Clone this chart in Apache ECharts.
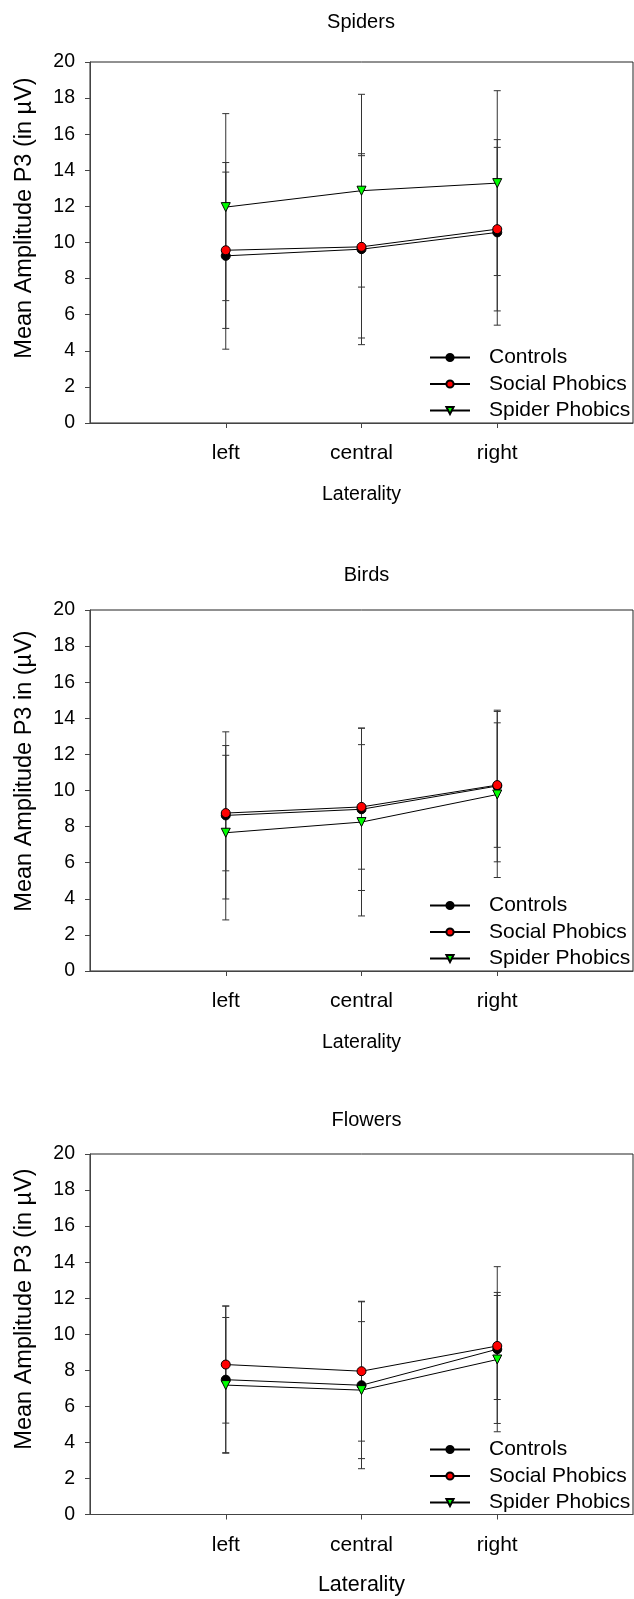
<!DOCTYPE html>
<html>
<head>
<meta charset="utf-8">
<script src="https://cdn.jsdelivr.net/npm/echarts@6/dist/echarts.min.js"></script>
<style>
html,body{margin:0;padding:0;background:#fff;}
#chart{width:634px;height:1599px;}
</style>
</head>
<body>
<div id="chart"></div>
<script>
// ---- data ----
const categories = ['left', 'central', 'right'];
const seriesNames = ['Controls', 'Social Phobics', 'Spider Phobics'];
const panelTitles = ['Spiders', 'Birds', 'Flowers'];
const yTitles = ['Mean Amplitude P3 (in µV)', 'Mean Amplitude P3 in (µV)', 'Mean Amplitude P3 (in µV)'];
const xTitle = 'Laterality';
const yTicks = [0, 2, 4, 6, 8, 10, 12, 14, 16, 18, 20];

// Spiders
const spidersControls = [9.26, 9.63, 10.56];
const spidersControlsErr = [5.17, 5.29, 5.14];
const spidersSocial = [9.57, 9.76, 10.74];
const spidersSocialErr = [4.33, 5.05, 4.53];
const spidersSpider = [11.96, 12.87, 13.29];
const spidersSpiderErr = [5.18, 5.34, 5.12];

// Birds
const birdsControls = [8.62, 8.96, 10.25];
const birdsControlsErr = [4.63, 4.50, 4.20];
const birdsSocial = [8.75, 9.09, 10.30];
const birdsSocialErr = [3.20, 3.45, 3.45];
const birdsSpider = [7.66, 8.25, 9.78];
const birdsSpiderErr = [4.83, 5.20, 4.60];

// Flowers
const flowersControls = [7.48, 7.17, 9.17];
const flowersControlsErr = [4.08, 4.63, 4.58];
const flowersSocial = [8.32, 7.95, 9.35];
const flowersSocialErr = [3.25, 3.88, 2.97];
const flowersSpider = [7.18, 6.90, 8.60];
const flowersSpiderErr = [3.75, 3.80, 3.55];

const panels = [
  [[spidersControls, spidersControlsErr], [spidersSocial, spidersSocialErr], [spidersSpider, spidersSpiderErr]],
  [[birdsControls, birdsControlsErr], [birdsSocial, birdsSocialErr], [birdsSpider, birdsSpiderErr]],
  [[flowersControls, flowersControlsErr], [flowersSocial, flowersSocialErr], [flowersSpider, flowersSpiderErr]]
];

// ---- styling ----
const FONT = "'Liberation Sans', Arial, sans-serif";
const gridTops = [62, 610, 1154];
const gridHeights = [361, 361, 360.5];
const gridLeft = 90;
const gridWidth = 543;
const titleTops = [7, 560, 1105];
const titleLefts = [356, 361.5, 361.5];
const yTitleCenters = [218, 771, 1309];
const markerStyles = [
  {symbol: 'circle', rotate: 0, fill: '#000000'},
  {symbol: 'circle', rotate: 0, fill: '#ff0000'},
  {symbol: 'triangle', rotate: 180, fill: '#00ff00'}
];
const xAxisData = [''].concat(categories).concat(['']);

const grids = [], xAxes = [], yAxes = [], series = [], titles = [], legends = [], graphics = [];

panels.forEach((panel, p) => {
  grids.push({left: gridLeft, top: gridTops[p], width: gridWidth, height: gridHeights[p],
    show: true, borderColor: '#222', borderWidth: 1, backgroundColor: 'transparent'});
  titles.push({text: panelTitles[p], left: titleLefts[p], top: titleTops[p], textAlign: 'center',
    textStyle: {fontFamily: FONT, fontSize: 20, fontWeight: 'normal', color: '#000'}});
  xAxes.push({
    type: 'category', gridIndex: p, data: xAxisData, boundaryGap: false,
    axisLine: {show: true, lineStyle: {color: '#444', width: 1}},
    axisTick: {show: true, inside: false, length: 5, lineStyle: {color: '#444'},
      interval: (i, v) => v !== ''},
    axisLabel: {show: true, interval: (i, v) => v !== '', margin: 20,
      fontFamily: FONT, fontSize: 21, color: '#000'},
    name: xTitle, nameLocation: 'middle', nameGap: p === 2 ? 60 : 62,
    nameTextStyle: {fontFamily: FONT, fontSize: p === 2 ? 21.5 : 19.5, color: '#000'},
    splitLine: {show: false}
  });
  yAxes.push({
    type: 'value', gridIndex: p, min: 0, max: 20, interval: 2,
    axisLine: {show: true, lineStyle: {color: '#444', width: 1}},
    axisTick: {show: true, inside: false, length: 5, lineStyle: {color: '#444'}},
    axisLabel: {margin: 15, fontFamily: FONT, fontSize: 19.5, color: '#000', padding: [3, 0, 0, 0],
      formatter: v => yTicks.indexOf(v) >= 0 ? String(v) : ''},
    splitLine: {show: false}
  });
  graphics.push({
    type: 'text', x: 25, y: yTitleCenters[p], rotation: Math.PI / 2, silent: true,
    style: {text: yTitles[p], fontFamily: FONT, fontSize: 23.5, fill: '#000',
      textAlign: 'center', textVerticalAlign: 'middle'}
  });
  panel.forEach((pair, s) => {
    const means = pair[0], errs = pair[1];
    // error bars
    series.push({
      type: 'custom', xAxisIndex: p, yAxisIndex: p, z: 2, silent: true,
      data: categories.map((c, i) => [c, means[i] - errs[i], means[i] + errs[i]]),
      encode: {x: 0, y: [1, 2]},
      renderItem: (params, api) => {
        const x = api.value(0);
        const lo = api.coord([x, api.value(1)]);
        const hi = api.coord([x, api.value(2)]);
        const hw = 3.5;
        const st = {stroke: '#333', lineWidth: 1, fill: null};
        return {type: 'group', children: [
          {type: 'line', shape: {x1: hi[0], y1: hi[1], x2: lo[0], y2: lo[1]}, style: st},
          {type: 'line', shape: {x1: hi[0] - hw, y1: hi[1], x2: hi[0] + hw, y2: hi[1]}, style: st},
          {type: 'line', shape: {x1: lo[0] - hw, y1: lo[1], x2: lo[0] + hw, y2: lo[1]}, style: st}
        ]};
      }
    });
    // mean line
    const ms = markerStyles[s];
    series.push({
      type: 'line', name: seriesNames[s], xAxisIndex: p, yAxisIndex: p, z: 3,
      data: categories.map((c, i) => [c, means[i]]),
      symbol: ms.symbol, symbolRotate: ms.rotate, symbolSize: 9, showSymbol: true,
      lineStyle: {color: '#000', width: 1},
      itemStyle: {color: ms.fill, borderColor: '#000', borderWidth: 1},
      emphasis: {disabled: true}, animation: false
    });
  });
  legends.push({
    orient: 'vertical', left: 429, top: gridTops[p] + 285, itemGap: 5.5,
    itemWidth: 40, itemHeight: 9, data: seriesNames, selectedMode: false,
    textStyle: {fontFamily: FONT, fontSize: 21, color: '#000', padding: [0, 0, 0, 14]}, padding: 0
  });
});

const chart = echarts.init(document.getElementById('chart'), null, {renderer: 'canvas'});
chart.setOption({
  animation: false,
  backgroundColor: '#fff',
  title: titles, legend: legends, grid: grids, xAxis: xAxes, yAxis: yAxes, series: series,
  graphic: graphics
});
</script>
</body>
</html>
